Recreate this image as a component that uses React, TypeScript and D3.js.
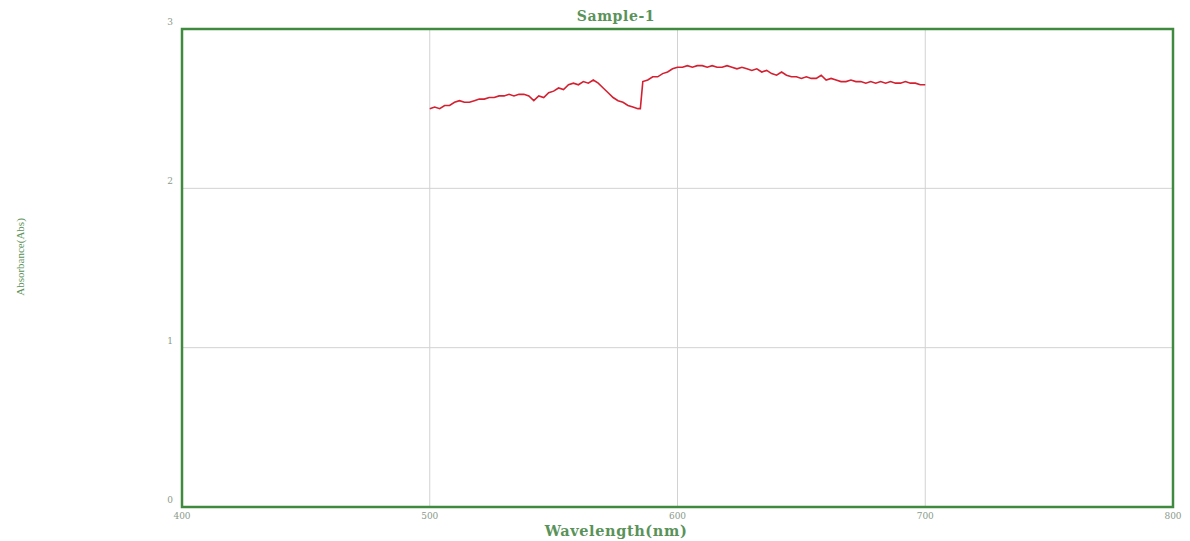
import React from "react";
import * as d3 from "d3";

const wavelengths: number[] = [
  500, 502, 504, 506, 508, 510, 512, 514, 516, 518, 520, 522, 524, 526, 528, 530, 532, 534, 536, 538,
  540, 542, 544, 546, 548, 550, 552, 554, 556, 558, 560, 562, 564, 566, 568, 570, 572, 574, 576, 578,
  580, 582, 584, 585, 586, 588, 590, 592, 594, 596, 598, 600, 602, 604, 606, 608, 610, 612, 614, 616,
  618, 620, 622, 624, 626, 628, 630, 632, 634, 636, 638, 640, 642, 644, 646, 648, 650, 652, 654, 656,
  658, 660, 662, 664, 666, 668, 670, 672, 674, 676, 678, 680, 682, 684, 686, 688, 690, 692, 694, 696,
  698, 700,
];
const absorbance: number[] = [
  2.50, 2.51, 2.50, 2.52, 2.52, 2.54, 2.55, 2.54, 2.54, 2.55, 2.56, 2.56, 2.57, 2.57, 2.58, 2.58, 2.59, 2.58, 2.59, 2.59,
  2.58, 2.55, 2.58, 2.57, 2.60, 2.61, 2.63, 2.62, 2.65, 2.66, 2.65, 2.67, 2.66, 2.68, 2.66, 2.63, 2.60, 2.57, 2.55, 2.54,
  2.52, 2.51, 2.50, 2.50, 2.67, 2.68, 2.70, 2.70, 2.72, 2.73, 2.75, 2.76, 2.76, 2.77, 2.76, 2.77, 2.77, 2.76, 2.77, 2.76,
  2.76, 2.77, 2.76, 2.75, 2.76, 2.75, 2.74, 2.75, 2.73, 2.74, 2.72, 2.71, 2.73, 2.71, 2.70, 2.70, 2.69, 2.70, 2.69, 2.69,
  2.71, 2.68, 2.69, 2.68, 2.67, 2.67, 2.68, 2.67, 2.67, 2.66, 2.67, 2.66, 2.67, 2.66, 2.67, 2.66, 2.66, 2.67, 2.66, 2.66,
  2.65, 2.65,
];
const xTicks: number[] = [400, 500, 600, 700, 800];
const yTicks: number[] = [0, 1, 2, 3];
const title = "Sample-1";
const xLabel = "Wavelength(nm)";
const yLabel = "Absorbance(Abs)";

export default function App() {
  const W = 1190, H = 541;
  const left = 182, right = 1173, top = 29, bottom = 507;
  const x = d3.scaleLinear().domain([400, 800]).range([left, right]);
  const y = d3.scaleLinear().domain([0, 3]).range([bottom, top]);
  const pts: [number, number][] = wavelengths.map((w, i) => [w, absorbance[i]]);
  const line = d3.line<[number, number]>().x((d) => x(d[0])).y((d) => y(d[1]));
  const green = "#3f8a3f";
  const textGreen = "#5a935a";
  const labelX = 616;
  return (
    <svg width={W} height={H} style={{ position: "absolute", left: 0, top: 0, background: "#fff" }}>
      {xTicks.map((t) => (
        <line key={"gx" + t} x1={x(t)} x2={x(t)} y1={top} y2={bottom} stroke="#d2d2d2" strokeWidth={1} />
      ))}
      {yTicks.map((t) => (
        <line key={"gy" + t} x1={left} x2={right} y1={y(t)} y2={y(t)} stroke="#d2d2d2" strokeWidth={1} />
      ))}
      <rect x={left} y={top} width={right - left} height={bottom - top} fill="none" stroke={green} strokeWidth={2.5} />
      <path d={line(pts) || ""} fill="none" stroke="#d42030" strokeWidth={1.6} />
      {yTicks.map((t) => (
        <text key={"ty" + t} x={left - 9} y={y(t) - 4} fontFamily="DejaVu Serif, serif" fontSize={9} fill="#8a9a8a" textAnchor="end">
          {t}
        </text>
      ))}
      {xTicks.map((t) => (
        <text key={"tx" + t} x={x(t)} y={bottom + 12} fontFamily="DejaVu Serif, serif" fontSize={9} fill="#8a9a8a" textAnchor="middle">
          {t}
        </text>
      ))}
      <text x={labelX} y={21} fontFamily="DejaVu Serif, serif" fontSize={14} fontWeight="bold" letterSpacing={0.6} fill={textGreen} textAnchor="middle">
        {title}
      </text>
      <text x={labelX} y={536} fontFamily="DejaVu Serif, serif" fontSize={14.5} fontWeight="bold" letterSpacing={0.6} fill={textGreen} textAnchor="middle">
        {xLabel}
      </text>
      <text transform={`translate(24, 257) rotate(-90)`} fontFamily="Liberation Serif, serif" fontSize={11} fill={textGreen} textAnchor="middle">
        {yLabel}
      </text>
    </svg>
  );
}
